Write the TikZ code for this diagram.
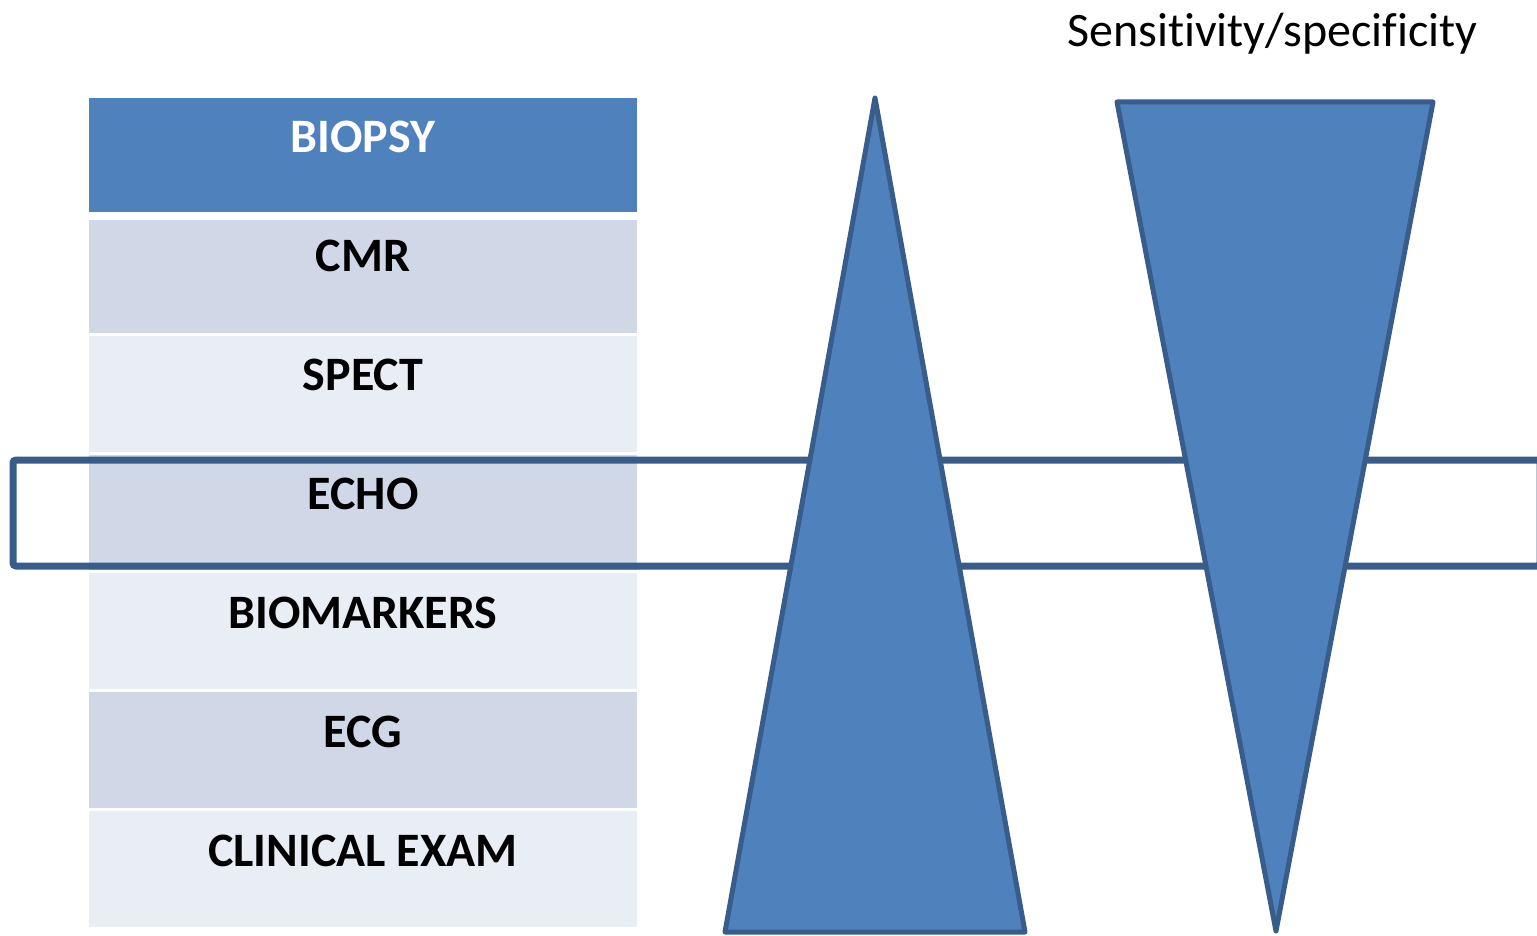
\documentclass[tikz,border=0pt]{standalone}
\usepackage{fontspec}
\setmainfont{Carlito}[Ligatures=NoCommon]
\begin{document}
\begin{tikzpicture}[x=1pt,y=-1pt,
  rowlabel/.style={anchor=base,inner sep=0pt,font=\fontsize{48}{48}\selectfont\bfseries},
  darkrow/.style={fill=rowdark},
  lightrow/.style={fill=rowlight},
  tri/.style={fill=triblue,draw=edgeblue,line width=5pt,line join=round},
  band/.style={draw=edgeblue,line width=7pt,rounded corners=3pt}]
\definecolor{triblue}{HTML}{4F81BD}
\definecolor{edgeblue}{HTML}{385D8A}
\definecolor{rowdark}{HTML}{D0D8E8}
\definecolor{rowlight}{HTML}{E9EDF4}
\useasboundingbox (0,0) rectangle (1537,936);
\clip (0,0) rectangle (1537,936);

% table rows
\fill[triblue] (89,98) rectangle (637,212);
\fill[darkrow] (89,220) rectangle (637,333);
\fill[lightrow] (89,336) rectangle (637,452);
\fill[darkrow] (89,455) rectangle (637,570);
\fill[lightrow] (89,573) rectangle (637,689);
\fill[darkrow] (89,692) rectangle (637,808);
\fill[lightrow] (89,811) rectangle (637,927);

\node[rowlabel,text=white] (biopsy) at (363,152.5) {BIOPSY};
\node[rowlabel] (cmr) at (363,271.5) {CMR};
\node[rowlabel] (spect) at (363,390.5) {SPECT};
\node[rowlabel] (echo) at (363,509.5) {ECHO};
\node[rowlabel] (biomarkers) at (363,628.5) {BIOMARKERS};
\node[rowlabel] (ecg) at (363,747.5) {ECG};
\node[rowlabel] (clinical) at (363,866.5) {CLINICAL EXAM};

% highlight band across the ECHO row
\draw[band] (13,460) rectangle (1540,566);

% wedges
\draw[tri] (875,98) -- (1025,932) -- (725,932) -- cycle;
\draw[tri] (1117,102) -- (1433,102) -- (1276,931) -- cycle;

\node[anchor=base west,inner sep=0pt,font=\fontsize{48}{48}\selectfont] (sens) at (1067,47) {Sensitivity/specificity};
\end{tikzpicture}
\end{document}
